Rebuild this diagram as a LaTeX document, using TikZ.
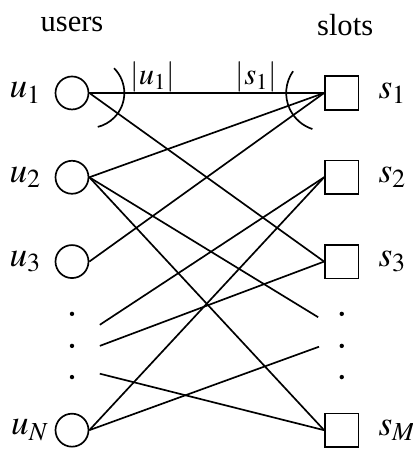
\documentclass[tikz,border=0pt]{standalone}
\usepackage{mathptmx}
\usepackage{fontspec}
\setmainfont{Liberation Serif}
\usepackage{tikz}
\usetikzlibrary{positioning}

\begin{document}
\begin{tikzpicture}[x=0.97cm,y=0.97cm,line width=0.55pt]
    \tikzstyle{user}=[circle,draw,minimum size=10.8pt,inner sep=0pt]
    \tikzstyle{slot}=[rectangle,draw,minimum size=11pt,inner sep=0pt]
    \tikzstyle{vertex label}=[inner sep=0pt,font=\fontsize{11.5}{14}\selectfont]
    \useasboundingbox (-0.854,-4.247) rectangle (4.045,1.103);
    \node (T_U) at (0,0.81) {users};
    \node (T_S) at (3.24,0.81) {slots};
    \node[user] (U_1) at (0,0) {};
    \node[user] (U_2) at (0,-1) {};
    \node[user] (U_3) at (0,-2) {};
    \node[user] (U_N) at (0,-4) {};
    \node[slot] (S_1) at (3.2,0) {};
    \node[slot] (S_2) at (3.2,-1) {};
    \node[slot] (S_3) at (3.2,-2) {};
    \node[slot] (S_M) at (3.2,-4) {};
    \node[vertex label,left=4pt of U_1] {$u_1$};
    \node[vertex label,left=4pt of U_2] {$u_2$};
    \node[vertex label,left=4pt of U_3] {$u_3$};
    \node[vertex label,left=1.5pt of U_N] {$u_N$};
    \node[vertex label,right=6pt of S_1] {$s_1$};
    \node[vertex label,right=6pt of S_2] {$s_2$};
    \node[vertex label,right=6pt of S_3] {$s_3$};
    \node[vertex label,right=6pt of S_M] {$s_M$};
    \node (T_u1) at (0.96,0.19) {$|u_1|$};
    \node (T_s1) at (2.19,0.19) {$|s_1|$};
    % loose ends in the dotted part
    \coordinate (L_1) at (0.33,-2.75);
    \coordinate (L_2) at (0.33,-3.0);
    \coordinate (L_3) at (0.33,-3.33);
    \coordinate (R_1) at (2.92,-2.66);
    \coordinate (R_2) at (2.93,-3.01);
    \foreach \y in {-2.62,-3.0,-3.37} {
      \fill (0,\y) circle (0.026);
      \fill (3.2,\y) circle (0.026);
    }
    \draw (U_1.east) -- (S_1.west);
    \draw (U_1.east) -- (S_3.west);
    \draw (U_2.east) -- (S_1.west);
    \draw (U_2.east) -- (S_M.west);
    \draw (U_2.east) -- (R_1);
    \draw (U_3.east) -- (S_1.west);
    \draw (L_1) -- (S_2.west);
    \draw (L_2) -- (S_3.west);
    \draw (L_3) -- (S_M.west);
    \draw (U_N.east) -- (S_2.west);
    \draw (U_N.east) -- (R_2);
    \draw ([shift={(45:0.415)}]U_1.east) arc[start angle=45,end angle=-76,radius=0.415];
    \draw ([shift={(145:0.45)}]S_1.west) arc[start angle=145,end angle=252,radius=0.45];
  \end{tikzpicture}
\end{document}
